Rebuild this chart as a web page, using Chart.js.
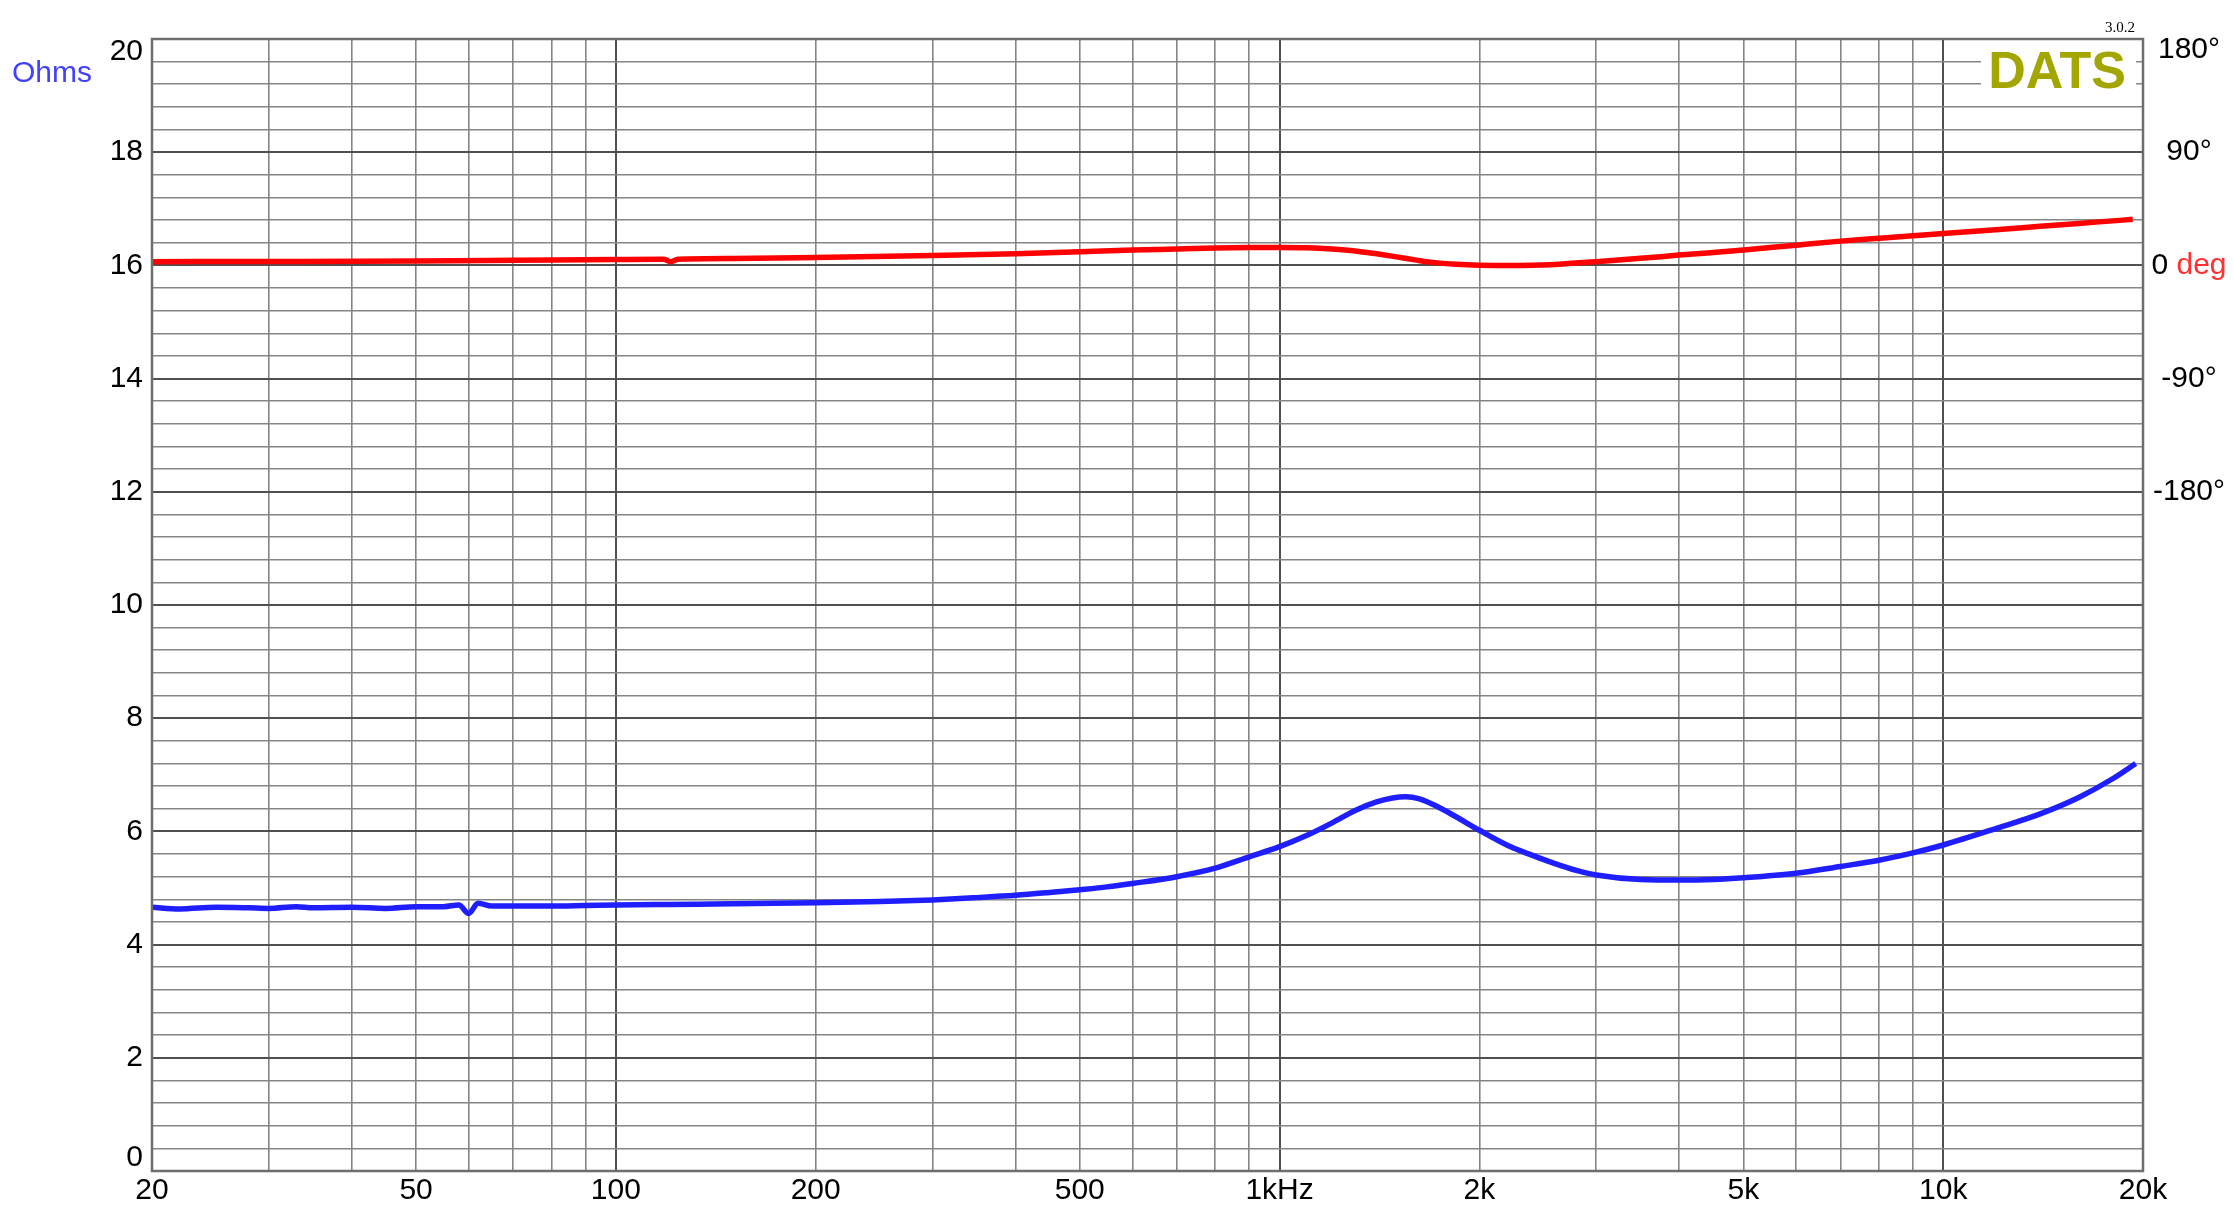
<!DOCTYPE html>
<html><head><meta charset="utf-8">
<script src="https://cdn.jsdelivr.net/npm/chart.js@4.4.1/dist/chart.umd.min.js"></script>
<style>html,body{margin:0;padding:0;background:#fff;overflow:hidden}canvas{display:block}</style>
</head><body>
<canvas id="c" width="2234" height="1216"></canvas>
<script>
// ---- data ----
const IMP_FREQ = [20,22,25,28,30,33,35,40,45,50,55,58,60,62,65,70,80,90,100,120,150,200,250,300,350,400,450,500,550,600,700,800,900,1000,1100,1200,1300,1400,1480,1550,1620,1700,1800,2000,2200,2400,2600,2800,3000,3500,4000,4500,5000,6000,7000,8000,9000,10000,12000,14000,16000,18000,19500];
const IMP_OHMS = [4.66,4.63,4.66,4.65,4.64,4.67,4.65,4.66,4.64,4.67,4.67,4.70,4.55,4.73,4.68,4.68,4.68,4.69,4.70,4.71,4.72,4.74,4.76,4.79,4.83,4.87,4.92,4.97,5.02,5.08,5.20,5.35,5.55,5.73,5.93,6.15,6.37,6.52,6.59,6.61,6.58,6.48,6.33,6.02,5.76,5.58,5.43,5.31,5.23,5.15,5.14,5.15,5.18,5.26,5.38,5.49,5.62,5.76,6.05,6.31,6.60,6.93,7.20];
const PH_FREQ = [20,30,50,70,100,118,121,124,150,200,300,400,500,600,700,800,900,1000,1100,1200,1300,1400,1500,1600,1700,1850,2000,2200,2400,2600,3000,3500,4000,5000,6000,7000,8000,9000,10000,12000,14000,16000,18000,19300];
const PH_DEG = [3.0,3.1,3.4,4.0,4.7,4.9,3.0,4.9,5.5,6.3,7.9,9.3,10.8,12.2,13.0,13.8,14.2,14.3,14.0,13.0,11.5,9.2,6.8,4.4,2.4,0.9,0.2,-0.1,0.1,0.8,2.9,5.6,8.2,12.2,16.1,19.3,21.5,23.5,25.4,28.4,31.1,33.4,35.4,36.6];
const X_GRID = [20,30,40,50,60,70,80,90,100,200,300,400,500,600,700,800,900,1000,2000,3000,4000,5000,6000,7000,8000,9000,10000,20000];
const X_LABEL_VALUES = [20,50,100,200,500,1000,2000,5000,10000,20000];
const X_LABEL_TEXT = ['20','50','100','200','500','1kHz','2k','5k','10k','20k'];
const Y_LABEL_VALUES = [0,2,4,6,8,10,12,14,16,18,20];
const PHASE_LABEL_VALUES = [180,90,0,-90,-180];
const PHASE_LABEL_TEXT = ['180°','90°','0','-90°','-180°'];

const FONT = '"Liberation Sans", Arial, sans-serif';

const decorations = {
  id: 'decorations',
  beforeDatasetsDraw(chart) {
    const ctx = chart.ctx;
    ctx.save();
    ctx.fillStyle = '#fff';
    ctx.fillRect(1981, 44, 155, 52);
    ctx.restore();
  },
  afterDraw(chart) {
    const ctx = chart.ctx, a = chart.chartArea;
    ctx.save();
    // frame
    ctx.strokeStyle = '#6e6e6e';
    ctx.lineWidth = 2.5;
    ctx.strokeRect(a.left, a.top, a.right - a.left, a.bottom - a.top);
    // Ohms label
    ctx.font = '30px ' + FONT;
    ctx.fillStyle = '#4040ff';
    ctx.textBaseline = 'middle';
    ctx.textAlign = 'left';
    ctx.fillText('Ohms', 12, 74);
    // DATS logo
    ctx.font = 'bold 52px ' + FONT;
    ctx.fillStyle = '#a3a600';
    ctx.textAlign = 'right';
    ctx.textBaseline = 'alphabetic';
    ctx.fillText('DATS', 2126, 88);
    ctx.font = '15px "Liberation Serif", "Times New Roman", serif';
    ctx.fillStyle = '#000';
    ctx.fillText('3.0.2', 2135, 32);
    // phase labels on the right
    const y2 = chart.scales.y2;
    ctx.font = '30px ' + FONT;
    ctx.textBaseline = 'middle';
    ctx.textAlign = 'left';
    const cx = 2189;
    PHASE_LABEL_VALUES.forEach((v, i) => {
      let y = y2.getPixelForValue(v);
      y = Math.max(y, a.top + 11);
      const t = PHASE_LABEL_TEXT[i];
      if (v === 0) {
        const w0 = ctx.measureText(t + ' ').width;
        const w1 = ctx.measureText('deg').width;
        const x0 = cx - (w0 + w1) / 2;
        ctx.fillStyle = '#000';
        ctx.fillText(t + ' ', x0, y);
        ctx.fillStyle = '#ff3030';
        ctx.fillText('deg', x0 + w0, y);
      } else {
        const w = ctx.measureText(t).width;
        ctx.fillStyle = '#000';
        ctx.fillText(t, cx - w / 2, y);
      }
    });
    ctx.restore();
  }
};

const impData = IMP_FREQ.map((f, i) => ({x: f, y: IMP_OHMS[i]}));
const phData = PH_FREQ.map((f, i) => ({x: f, y: PH_DEG[i]}));

const isDecade = v => Math.abs(Math.log10(v) - Math.round(Math.log10(v))) < 1e-9;

new Chart(document.getElementById('c'), {
  type: 'line',
  data: {
    datasets: [
      {label: 'Phase', data: phData, yAxisID: 'y2', borderColor: '#ff0000', borderWidth: 5.5,
       pointRadius: 0, cubicInterpolationMode: 'monotone', fill: false},
      {label: 'Impedance', data: impData, yAxisID: 'y', borderColor: '#1e1eff', borderWidth: 5.5,
       pointRadius: 0, cubicInterpolationMode: 'monotone', fill: false}
    ]
  },
  options: {
    responsive: false,
    devicePixelRatio: 1,
    animation: false,
    events: [],
    layout: {padding: {top: 39, right: 91, left: 0, bottom: 0}},
    plugins: {legend: {display: false}, tooltip: {enabled: false}},
    scales: {
      x: {
        type: 'logarithmic', min: 20, max: 20000, position: 'bottom',
        afterBuildTicks(scale) { scale.ticks = X_GRID.map(v => ({value: v})); },
        afterFit(scale) { scale.height = 45; },
        ticks: {
          autoSkip: false, maxRotation: 0, minRotation: 0, padding: 2, color: '#000',
          font: {family: FONT, size: 30},
          callback(value) {
            const k = X_LABEL_VALUES.indexOf(value);
            return k >= 0 ? X_LABEL_TEXT[k] : '';
          }
        },
        grid: {
          drawTicks: false,
          color: ctx => (ctx.tick && isDecade(ctx.tick.value)) ? '#505050' : '#858585',
          lineWidth: ctx => (ctx.tick && isDecade(ctx.tick.value)) ? 2 : 1.6
        },
        border: {display: false}
      },
      y: {
        type: 'linear', min: 0, max: 20, position: 'left',
        afterBuildTicks(scale) {
          const t = [];
          for (let i = 0; i <= 50; i++) t.push({value: Math.round(i * 4) / 10});
          scale.ticks = t;
        },
        afterFit(scale) { scale.width = 152; },
        ticks: {
          autoSkip: false, padding: 9, color: '#000',
          font: {family: FONT, size: 30, lineHeight: 0.87},
          callback(value) {
            const v = Math.round(value * 10) / 10;
            if (!Y_LABEL_VALUES.includes(v)) return '';
            if (v === 20) return ['', String(v)];
            if (v === 0) return [String(v), ''];
            return String(v);
          }
        },
        grid: {
          drawTicks: false,
          color: ctx => (ctx.tick && Math.abs(ctx.tick.value % 2) < 1e-6) ? '#505050' : '#858585',
          lineWidth: ctx => (ctx.tick && Math.abs(ctx.tick.value % 2) < 1e-6) ? 2 : 1.6
        },
        border: {display: false}
      },
      y2: {
        type: 'linear', min: -720, max: 180, position: 'right', display: false
      }
    }
  },
  plugins: [decorations]
});
</script>
</body></html>
